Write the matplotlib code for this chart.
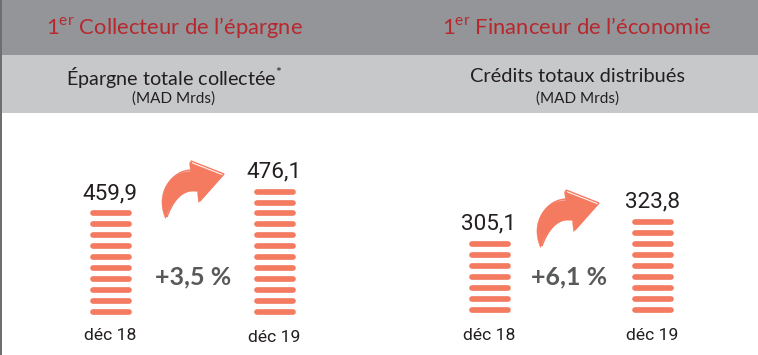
import matplotlib
matplotlib.use("Agg")
import matplotlib.pyplot as plt
from matplotlib.patches import PathPatch, Rectangle
from matplotlib.path import Path

plt.rcParams["font.family"] = ["Lato", "DejaVu Sans"]
plt.rcParams["mathtext.fontset"] = "custom"
plt.rcParams["mathtext.rm"] = "Lato"

# donnees
periods = ["déc 18", "déc 19"]
epargne_labels = ["459,9", "476,1"]
credits_labels = ["305,1", "323,8"]
epargne_dashes = [10, 12]
credits_dashes = [7, 9]
epargne_growth = "+3,5 %"
credits_growth = "+6,1 %"

SALMON = "#f47a60"
RED = "#b7282e"
DARK = "#231f20"
GREY = "#58595b"


def add_stack(ax, xc, n, y_bottom, label, period, y_period):
    # une barre = une pile de tirets arrondis
    pitch = 10.95
    ys = [y_bottom - i * pitch for i in range(n)]
    ax.hlines(ys, xc - 18, xc + 18, color=SALMON, lw=4.1, capstyle="round")
    ax.text(xc - 0.5, ys[-1] - 20, label, ha="center", va="center", fontsize=16.2,
            family="Roboto", color=DARK)
    ax.text(xc - 0.5, y_period, period, ha="center", va="center", fontsize=12.6,
            family="Roboto", color=DARK)


def add_arrow(ax, dx, dy):
    def shape(ox, oy):
        verts = [(167, 217), (156, 192), (172, 170), (192, 170), (191, 161),
                 (224, 174), (200, 201), (199, 190), (182, 187), (172, 203),
                 (167, 217)]
        codes = [Path.MOVETO, Path.CURVE4, Path.CURVE4, Path.CURVE4, Path.LINETO,
                 Path.LINETO, Path.LINETO, Path.LINETO, Path.CURVE4, Path.CURVE4,
                 Path.CURVE4]
        return Path([(x + dx + ox, y + dy + oy) for x, y in verts], codes)

    ax.add_patch(PathPatch(shape(0, 0), fc="white", ec=SALMON, lw=1.0))
    ax.add_patch(PathPatch(shape(-1.5, 1.5), fc=SALMON, ec=SALMON, lw=0.3))


def main():
    fig = plt.figure(figsize=(7.58, 3.55), dpi=100)
    ax = fig.add_axes([0, 0, 1, 1])
    ax.set_xlim(0, 758)
    ax.set_ylim(355, 0)
    ax.axis("off")

    # bandeaux
    ax.add_patch(Rectangle((0, 0), 758, 55, fc="#939598", ec="none"))
    ax.add_patch(Rectangle((0, 55), 758, 58, fc="#c7c8ca", ec="none"))
    ax.add_patch(Rectangle((0, 0), 2, 355, fc="#6d6e71", ec="none"))

    # titres
    ax.text(46, 28, r"1$^{\mathrm{er}}$ Collecteur de l’épargne", ha="left",
            va="center", fontsize=15.8, color=RED)
    ax.text(442, 28, r"1$^{\mathrm{er}}$ Financeur de l’économie", ha="left",
            va="center", fontsize=15.8, color=RED)

    ax.text(174, 77, r"Épargne totale collectée$^{*}$", ha="center", va="center",
            fontsize=14.2, color=DARK)
    ax.text(174, 99, "(MAD Mrds)", ha="center", va="center", fontsize=11,
            color=DARK)
    ax.text(578, 77, "Crédits totaux distribués", ha="center", va="center",
            fontsize=14.4, color=DARK)
    ax.text(578, 99, "(MAD Mrds)", ha="center", va="center", fontsize=11,
            color=DARK)

    # piles
    add_stack(ax, 110.5, epargne_dashes[0], 312, epargne_labels[0], periods[0], 335)
    add_stack(ax, 274.5, epargne_dashes[1], 312, epargne_labels[1], periods[1], 337)
    add_stack(ax, 489.5, credits_dashes[0], 310, credits_labels[0], periods[0], 336)
    add_stack(ax, 652.5, credits_dashes[1], 310, credits_labels[1], periods[1], 336)

    add_arrow(ax, 0, 0)
    add_arrow(ax, 375, 29)

    ax.text(193, 277, epargne_growth, ha="center", va="center", fontsize=18,
            fontweight="bold", color=GREY)
    ax.text(569, 277, credits_growth, ha="center", va="center", fontsize=18,
            fontweight="bold", color=GREY)

    fig.savefig("out.png", dpi=100)
    plt.close(fig)


if __name__ == "__main__":
    main()
